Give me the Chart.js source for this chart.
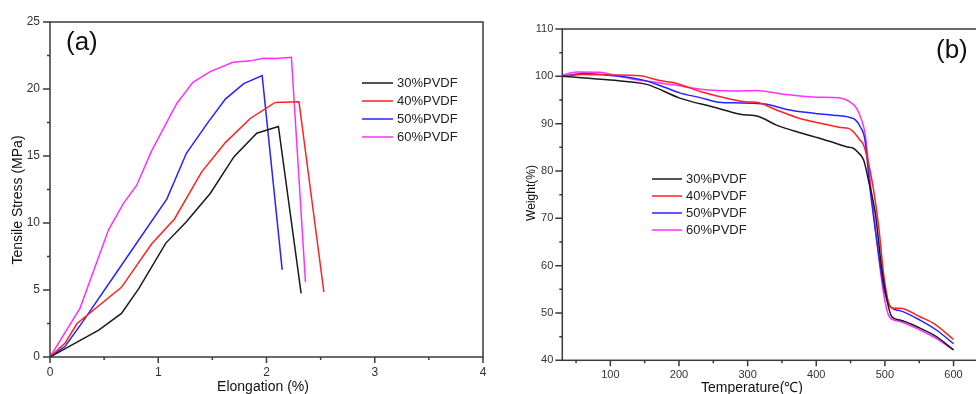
<!DOCTYPE html>
<html>
<head>
<meta charset="utf-8">
<script src="https://cdn.jsdelivr.net/npm/chart.js@4/dist/chart.umd.min.js"></script>
<style>
	body { margin: 0; width: 976px; height: 394px; overflow: hidden; background: #fff; position: relative; }
	#boxA { position: absolute; left: 0; top: 0; width: 500px; height: 394px; }
	#boxB { position: absolute; left: 500px; top: 0; width: 500px; height: 394px; }
</style>
</head>
<body>
<div id="boxA"><canvas id="chartA" width="500" height="394"></canvas></div>
<div id="boxB"><canvas id="chartB" width="500" height="394"></canvas></div>
<script>
// series names
const seriesNames = ['30%PVDF', '40%PVDF', '50%PVDF', '60%PVDF']
const seriesColors = ['#1a1a1a', '#ff2020', '#2424ff', '#ff30ff']

// (a) tensile test: elongation (%) vs stress (MPa)
const elong30 = [0, 0.45, 0.66, 0.82, 1.07, 1.26, 1.48, 1.70, 1.91, 2.11, 2.32]
const stress30 = [0, 2.0, 3.25, 5.1, 8.5, 10.1, 12.2, 14.95, 16.7, 17.2, 4.75]
const elong40 = [0, 0.14, 0.25, 0.66, 0.94, 1.15, 1.40, 1.62, 1.85, 2.08, 2.30, 2.53]
const stress40 = [0, 1.05, 2.5, 5.2, 8.45, 10.3, 13.8, 16.0, 17.8, 19.0, 19.05, 4.85]
const elong50 = [0, 0.14, 0.30, 0.66, 1.08, 1.26, 1.45, 1.62, 1.79, 1.96, 2.145]
const stress50 = [0, 0.8, 2.6, 6.85, 11.8, 15.2, 17.4, 19.25, 20.4, 21.0, 6.5]
const elong60 = [0, 0.277, 0.415, 0.54, 0.677, 0.8, 0.94, 1.17, 1.32, 1.48, 1.69, 1.85, 1.97, 2.09, 2.23, 2.36]
const stress60 = [0, 3.63, 6.7, 9.47, 11.45, 12.8, 15.4, 18.9, 20.5, 21.3, 22.0, 22.1, 22.3, 22.27, 22.37, 5.6]

// (b) TGA: temperature (C) vs weight (%)
const temp30 = [30, 100, 153, 201, 250, 289, 316, 342, 367, 400, 425, 444, 454, 461, 469, 476, 486, 495, 503, 510, 522, 551, 575, 600]
const weight30 = [100, 99.2, 98.3, 95.4, 93.5, 92.0, 91.5, 89.7, 88.5, 87.1, 86.0, 85.1, 84.8, 83.9, 82.3, 78.1, 71.1, 59.8, 52.7, 49.2, 48.5, 46.8, 45.0, 42.2]
const temp40 = [30, 60, 100, 143, 172, 197, 231, 260, 299, 313, 342, 376, 406, 435, 447, 454, 464, 469, 481, 491, 498, 505, 513, 522, 551, 571, 600]
const weight40 = [100, 100.4, 100.3, 100.1, 99.1, 98.5, 96.8, 95.7, 94.6, 94.5, 92.9, 91.1, 90.1, 89.2, 89.0, 88.3, 86.5, 85.5, 78.1, 68.2, 58.4, 52.4, 51.0, 51.0, 49.2, 47.8, 44.4]
const temp50 = [30, 60, 100, 148, 177, 201, 231, 255, 279, 308, 328, 357, 396, 425, 449, 457, 464, 471, 478, 488, 498, 505, 513, 522, 551, 575, 600]
const weight50 = [100, 100.6, 100.2, 99.2, 97.8, 96.5, 95.5, 94.6, 94.4, 94.3, 94.1, 93.0, 92.2, 91.8, 91.3, 90.8, 89.4, 86.5, 76.7, 65.4, 55.6, 52.0, 50.8, 50.5, 48.5, 46.4, 43.5]
const temp60 = [30, 51, 85, 104, 133, 158, 192, 221, 255, 279, 313, 352, 400, 435, 449, 459, 466, 471, 478, 488, 498, 505, 513, 522, 551, 575, 600]
const weight60 = [100.2, 100.9, 100.85, 100.3, 99.4, 98.9, 98.2, 97.5, 97.0, 96.9, 97.0, 96.2, 95.6, 95.4, 94.6, 93.2, 90.8, 88.0, 78.8, 65.4, 54.2, 49.6, 48.5, 48.2, 46.4, 44.6, 42.2]

const FONT = '"Liberation Sans", Arial, sans-serif'
const pair = (xs, ys) => xs.map((x, i) => ({ x: x, y: ys[i] }))

const makeSets = (list, tension) =>
	list.map((d, i) => ({
		label: seriesNames[i],
		data: pair(d[0], d[1]),
		borderColor: seriesColors[i],
		backgroundColor: seriesColors[i],
		borderWidth: 1.5,
		pointRadius: 0,
		tension: tension,
		cubicInterpolationMode: tension ? 'monotone' : 'default',
	}))

// frame, major/minor ticks, titles and legend
const decor = {
	id: 'decor',
	afterDraw(chart) {
		const o = chart.options.plugins.decor
		const ctx = chart.ctx
		const a = chart.chartArea
		ctx.save()
		ctx.strokeStyle = '#3a3a3a'
		ctx.lineWidth = 1.5
		ctx.strokeRect(a.left, a.top, a.right - a.left, a.bottom - a.top)
		// ticks
		const xs = chart.scales.x
		const ys = chart.scales.y
		ctx.beginPath()
		xs.ticks.forEach((t) => {
			const px = xs.getPixelForValue(t.value)
			const len = Math.abs(t.value / o.xMajor - Math.round(t.value / o.xMajor)) < 1e-6 ? 6 : 3
			ctx.moveTo(px, a.bottom)
			ctx.lineTo(px, a.bottom + len)
		})
		ys.ticks.forEach((t) => {
			const py = ys.getPixelForValue(t.value)
			const len = Math.abs(t.value / o.yMajor - Math.round(t.value / o.yMajor)) < 1e-6 ? 7 : 3
			ctx.moveTo(a.left, py)
			ctx.lineTo(a.left - len, py)
		})
		ctx.stroke()
		// axis titles
		ctx.fillStyle = '#111'
		ctx.textAlign = 'center'
		ctx.textBaseline = 'middle'
		ctx.font = o.xTitleSize + 'px ' + FONT
		ctx.fillText(o.xTitle, o.xTitlePos[0], o.xTitlePos[1])
		ctx.save()
		ctx.translate(o.yTitlePos[0], o.yTitlePos[1])
		ctx.rotate(-Math.PI / 2)
		ctx.font = o.yTitleSize + 'px ' + FONT
		ctx.fillText(o.yTitle, 0, 0)
		ctx.restore()
		// panel letter
		ctx.textAlign = 'left'
		ctx.font = '26px ' + FONT
		ctx.fillText(o.letter, o.letterPos[0], o.letterPos[1])
		// legend
		ctx.font = '13px ' + FONT
		chart.data.datasets.forEach((ds, i) => {
			const y = o.legend.y + i * o.legend.gap
			ctx.strokeStyle = ds.borderColor
			ctx.lineWidth = 1.5
			ctx.beginPath()
			ctx.moveTo(o.legend.x1, y)
			ctx.lineTo(o.legend.x2, y)
			ctx.stroke()
			ctx.fillStyle = '#222'
			ctx.fillText(ds.label, o.legend.x2 + 4, y)
		})
		ctx.restore()
	},
}

const tickFont = (size) => ({ family: FONT, size: size })

// (a) tensile chart
const chartA = new Chart(document.getElementById('chartA').getContext('2d'), {
	type: 'line',
	data: {
		datasets: makeSets([[elong30, stress30], [elong40, stress40], [elong50, stress50], [elong60, stress60]], 0),
	},
	options: {
		responsive: false,
		animation: false,
		layout: { padding: { top: 22, right: 17, left: 0, bottom: 0 } },
		scales: {
			x: {
				type: 'linear',
				min: 0,
				max: 4,
				afterFit: (s) => { s.height = 37 },
				grid: { drawOnChartArea: false, drawTicks: false },
				border: { display: false },
				ticks: {
					stepSize: 0.5,
					autoSkip: false,
					maxRotation: 0,
					padding: 8,
					color: '#333',
					font: tickFont(12),
					callback: (v) => (Number.isInteger(v) ? v : ''),
				},
			},
			y: {
				min: 0,
				max: 25,
				afterFit: (s) => { s.width = 50 },
				grid: { drawOnChartArea: false, drawTicks: false },
				border: { display: false },
				ticks: {
					stepSize: 2.5,
					autoSkip: false,
					padding: 10,
					color: '#333',
					font: tickFont(12),
					callback: (v) => (v % 5 === 0 ? v : ''),
				},
			},
		},
		plugins: {
			legend: { display: false },
			tooltip: { enabled: false },
			decor: {
				xMajor: 1,
				yMajor: 5,
				xTitle: 'Elongation (%)',
				xTitleSize: 14,
				xTitlePos: [263, 387],
				yTitle: 'Tensile Stress (MPa)',
				yTitleSize: 14,
				yTitlePos: [18, 200],
				letter: '(a)',
				letterPos: [66, 43],
				legend: { x1: 362, x2: 393, y: 83, gap: 18 },
			},
		},
	},
	plugins: [decor],
})

// (b) TGA chart
const chartB = new Chart(document.getElementById('chartB').getContext('2d'), {
	type: 'line',
	data: {
		datasets: makeSets([[temp30, weight30], [temp40, weight40], [temp50, weight50], [temp60, weight60]], 0.4),
	},
	options: {
		responsive: false,
		animation: false,
		layout: { padding: { top: 29, right: 19, left: 0, bottom: 0 } },
		scales: {
			x: {
				type: 'linear',
				min: 30,
				max: 640,
				afterFit: (s) => { s.height = 33.7 },
				afterBuildTicks: (s) => { s.ticks = s.ticks.filter((t) => t.value % 50 === 0) },
				grid: { drawOnChartArea: false, drawTicks: false },
				border: { display: false },
				ticks: {
					stepSize: 50,
					includeBounds: false,
					autoSkip: false,
					maxRotation: 0,
					padding: 8,
					color: '#333',
					font: tickFont(11),
					callback: (v) => (v % 100 === 0 ? v : ''),
				},
			},
			y: {
				min: 40,
				max: 110,
				afterFit: (s) => { s.width = 62.3 },
				grid: { drawOnChartArea: false, drawTicks: false },
				border: { display: false },
				ticks: {
					stepSize: 5,
					autoSkip: false,
					padding: 9,
					color: '#333',
					font: tickFont(11),
					callback: (v) => (v % 10 === 0 ? v : ''),
				},
			},
		},
		plugins: {
			legend: { display: false },
			tooltip: { enabled: false },
			decor: {
				xMajor: 100,
				yMajor: 10,
				xTitle: 'Temperature(℃)',
				xTitleSize: 14,
				xTitlePos: [252, 388],
				yTitle: 'Weight(%)',
				yTitleSize: 12,
				yTitlePos: [32, 193],
				letter: '(b)',
				letterPos: [436, 51],
				legend: { x1: 152, x2: 182, y: 179, gap: 17 },
			},
		},
	},
	plugins: [decor],
})
</script>
</body>
</html>
